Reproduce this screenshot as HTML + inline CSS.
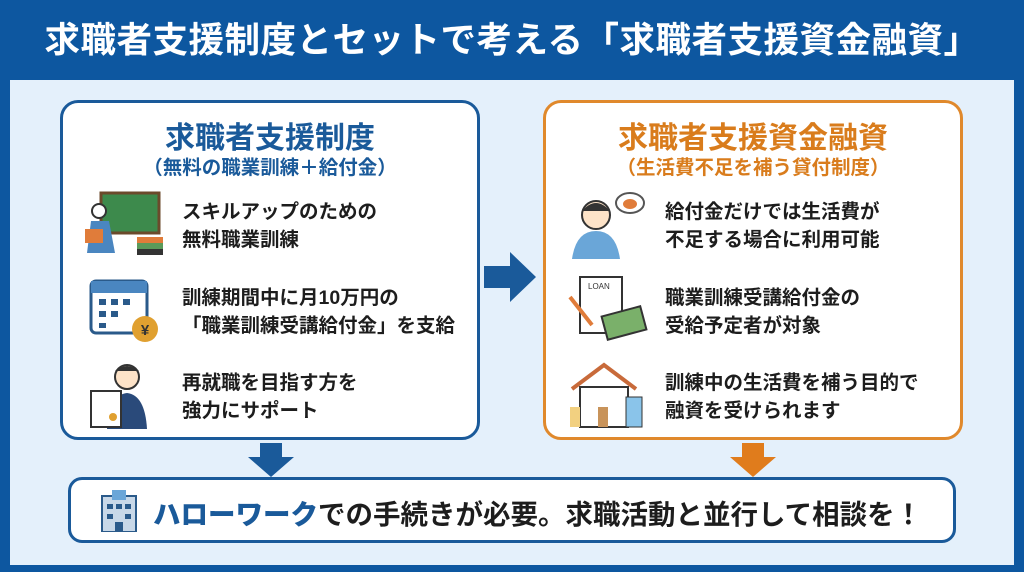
<!DOCTYPE html>
<html><head><meta charset="utf-8"><style>
*{margin:0;padding:0;box-sizing:border-box}
body{width:1024px;height:572px;overflow:hidden;background:#0d57a0;font-family:"Liberation Sans","Noto Sans CJK JP",sans-serif;position:relative}
.hdr{position:absolute;left:0;top:0;width:1024px;height:80px;color:#fff;font-weight:bold;font-size:35.5px;text-align:center;line-height:80px;letter-spacing:0.5px}
.in{position:absolute;left:10px;top:80px;width:1004px;height:485px;background:#e4f0fb}
.box{position:absolute;top:100px;width:420px;height:340px;background:#fff;border:3px solid #1a5a9a;border-radius:18px}
.box.o{border-color:#e0892c}
.t{position:absolute;left:0;width:100%;text-align:center;font-weight:bold;color:#1a5a9a;white-space:nowrap}
.o .t{color:#d97c1c}
.t1{top:10px;font-size:30px}
.t2{top:48px;font-size:19.5px}
.it{position:absolute;left:119px;font-size:19.5px;font-weight:bold;color:#1d1d1d;line-height:28px;white-space:nowrap}
.ic{position:absolute;left:22px;width:80px;height:68px}
.bot{position:absolute;left:68px;top:477px;width:888px;height:66px;background:#fff;border:3px solid #1a5a9a;border-radius:14px}
.bt{position:absolute;left:82px;top:12px;font-size:27.5px;font-weight:bold;color:#1d1d1d;white-space:nowrap}
.bt b{color:#1a5a9a}
</style></head><body>
<div class="hdr">求職者支援制度とセットで考える「求職者支援資金融資」</div>
<div class="in"></div>

<div class="box" style="left:60px">
<div class="t t1">求職者支援制度</div>
<div class="t t2">（無料の職業訓練＋給付金）</div>
<svg class="ic" style="top:88px" viewBox="0 0 80 68"><rect x="16" y="2" width="58" height="40" fill="#3d8a4c" stroke="#6b4a2b" stroke-width="3"/><circle cx="14" cy="20" r="7" fill="#fff" stroke="#333" stroke-width="2"/><path d="M2 62 L6 30 L24 30 L30 62Z" fill="#4a86c0"/><rect x="0" y="38" width="18" height="14" fill="#e07c3a"/><rect x="52" y="46" width="26" height="6" fill="#e07c3a"/><rect x="52" y="52" width="26" height="6" fill="#5a9a5a"/><rect x="52" y="58" width="26" height="6" fill="#333"/></svg>
<div class="it" style="top:95px">スキルアップのための<br>無料職業訓練</div>
<svg class="ic" style="top:172px" viewBox="0 0 80 68"><rect x="6" y="6" width="56" height="52" rx="5" fill="#fff" stroke="#2a5a8a" stroke-width="3"/><rect x="6" y="6" width="56" height="12" fill="#4a86c0"/><g fill="#2a5a8a"><rect x="14" y="24" width="7" height="6"/><rect x="26" y="24" width="7" height="6"/><rect x="38" y="24" width="7" height="6"/><rect x="14" y="36" width="7" height="6"/><rect x="26" y="36" width="7" height="6"/><rect x="14" y="48" width="7" height="5"/></g><circle cx="60" cy="54" r="13" fill="#e0a030"/><text x="60" y="60" font-size="15" text-anchor="middle" fill="#333" font-weight="bold">¥</text></svg>
<div class="it" style="top:181px">訓練期間中に月10万円の<br>「職業訓練受講給付金」を支給</div>
<svg class="ic" style="top:258px" viewBox="0 0 80 68"><circle cx="42" cy="16" r="12" fill="#fde3c8" stroke="#333" stroke-width="2"/><path d="M30 10 Q42 0 54 10Z" fill="#333"/><path d="M22 68 Q24 34 42 32 Q60 34 62 68Z" fill="#2a4a7a"/><rect x="6" y="30" width="30" height="36" fill="#fff" stroke="#333" stroke-width="2"/><circle cx="28" cy="56" r="4" fill="#e0a030"/></svg>
<div class="it" style="top:266px">再就職を目指す方を<br>強力にサポート</div>
</div>

<svg style="position:absolute;left:484px;top:252px" width="52" height="50"><path d="M0 14 H26 V0 L52 25 L26 50 V36 H0Z" fill="#1a5a9a"/></svg>

<div class="box o" style="left:543px">
<div class="t t1">求職者支援資金融資</div>
<div class="t t2">（生活費不足を補う貸付制度）</div>
<svg class="ic" style="top:88px" viewBox="0 0 80 68"><circle cx="28" cy="24" r="14" fill="#fde3c8" stroke="#333" stroke-width="2"/><path d="M14 20 Q28 4 42 20Z" fill="#333"/><path d="M4 68 Q8 40 28 40 Q48 40 52 68Z" fill="#6aa6d8"/><ellipse cx="62" cy="12" rx="14" ry="10" fill="#fff" stroke="#555" stroke-width="2"/><ellipse cx="62" cy="13" rx="7" ry="5" fill="#e07c3a"/></svg>
<div class="it" style="top:95px">給付金だけでは生活費が<br>不足する場合に利用可能</div>
<svg class="ic" style="top:172px" viewBox="0 0 80 68"><rect x="12" y="2" width="42" height="56" fill="#fff" stroke="#333" stroke-width="2"/><text x="20" y="14" font-size="8" fill="#333">LOAN</text><rect x="36" y="36" width="40" height="24" fill="#7ab06a" stroke="#333" stroke-width="2" transform="rotate(-15 56 48)"/><line x1="2" y1="22" x2="24" y2="50" stroke="#e07c3a" stroke-width="4"/></svg>
<div class="it" style="top:181px">職業訓練受講給付金の<br>受給予定者が対象</div>
<svg class="ic" style="top:258px" viewBox="0 0 80 68"><path d="M4 28 L36 4 L68 28" fill="none" stroke="#c86a3a" stroke-width="4"/><rect x="12" y="26" width="48" height="40" fill="#fff" stroke="#333" stroke-width="2"/><rect x="30" y="46" width="10" height="20" fill="#c8935a"/><rect x="58" y="36" width="16" height="30" fill="#8ac4ea" stroke="#333"/><rect x="2" y="46" width="10" height="20" fill="#f2d080"/></svg>
<div class="it" style="top:266px">訓練中の生活費を補う目的で<br>融資を受けられます</div>
</div>

<svg style="position:absolute;left:248px;top:443px" width="46" height="34"><path d="M12 0 H34 V14 H46 L23 34 L0 14 H12Z" fill="#1a5a9a"/></svg>
<svg style="position:absolute;left:730px;top:443px" width="46" height="34"><path d="M12 0 H34 V14 H46 L23 34 L0 14 H12Z" fill="#e07c1c"/></svg>

<div class="bot">
<svg style="position:absolute;left:25px;top:10px" width="46" height="42"><rect x="6" y="6" width="34" height="36" fill="#c8d8e8" stroke="#2a5a8a" stroke-width="2"/><rect x="16" y="0" width="14" height="10" fill="#6aa6d8"/><g fill="#2a5a8a"><rect x="11" y="14" width="6" height="5"/><rect x="20" y="14" width="6" height="5"/><rect x="29" y="14" width="6" height="5"/><rect x="11" y="24" width="6" height="5"/><rect x="29" y="24" width="6" height="5"/><rect x="19" y="32" width="8" height="10"/></g></svg>
<div class="bt"><b>ハローワーク</b>での手続きが必要。求職活動と並行して相談を！</div>
</div>
</body></html>
